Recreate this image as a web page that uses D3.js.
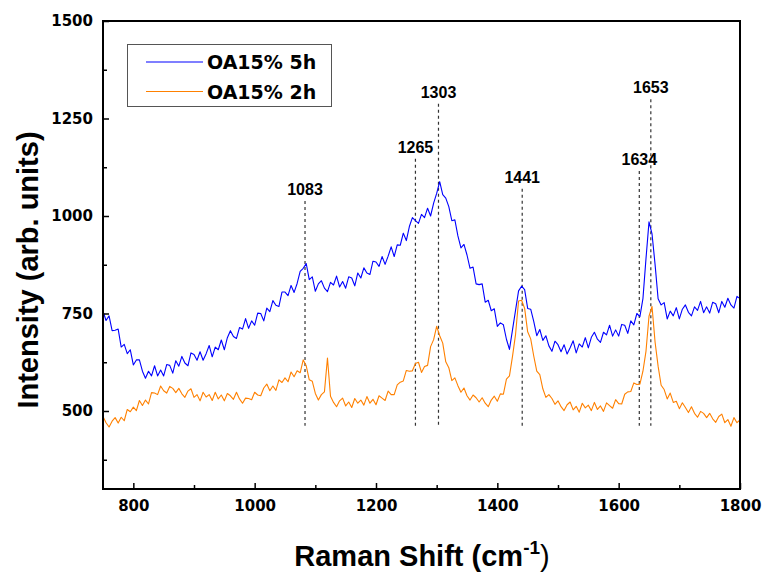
<!DOCTYPE html>
<html>
<head>
<meta charset="utf-8">
<script src="https://cdn.jsdelivr.net/npm/d3@7"></script>
<style>
    body { margin: 0; background: #fff; }
    svg { display: block; }
</style>
</head>
<body>
<div id="chart"></div>
<script>
// sampling grid of the spectra (cm-1)
var shiftStart = 750;
var shiftStep = 5;

// OA15% 5h, every 5 cm-1 from 750 to 1800
var oa5h = [
    756, 732, 744, 706, 707, 710, 664, 671, 647, 657,
    618, 631, 631, 602, 584, 602, 590, 616, 590, 605,
    590, 619, 617, 597, 629, 615, 640, 623, 616, 649,
    645, 630, 652, 630, 647, 668, 639, 664, 657, 682,
    657, 688, 706, 691, 686, 714, 710, 737, 712, 731,
    720, 751, 750, 731, 764, 755, 783, 771, 768, 805,
    805, 796, 822, 804, 827, 858, 866, 878, 837, 844,
    807, 826, 834, 815, 806, 830, 823, 846, 818, 832,
    815, 844, 841, 821, 854, 841, 867, 854, 850, 884,
    882, 871, 896, 876, 897, 921, 896, 926, 925, 956,
    937, 973, 996, 988, 981, 1004, 996, 1020, 1000, 1033,
    1058, 1088, 1055, 1046, 1024, 988, 990, 949, 918, 927,
    900, 866, 869, 826, 824, 826, 779, 784, 757, 762,
    717, 726, 721, 684, 658, 708, 758, 808, 820, 811,
    763, 761, 730, 693, 709, 681, 693, 667, 653, 679,
    670, 652, 670, 646, 662, 680, 649, 672, 664, 688,
    662, 689, 702, 684, 676, 702, 695, 720, 692, 708,
    692, 722, 720, 699, 731, 721, 750, 742, 788, 890,
    985, 954, 876, 788, 772, 778, 736, 756, 744, 765,
    736, 761, 772, 753, 744, 767, 758, 781, 752, 767,
    751, 779, 775, 752, 781, 766, 789, 772, 764, 794,
    788
];

// OA15% 2h, same grid
var oa2h = [
    486, 470, 459, 474, 483, 469, 484, 475, 504, 498,
    510, 501, 527, 514, 528, 518, 547, 546, 542, 564,
    552, 546, 563, 558, 547, 558, 544, 535, 551, 557,
    535, 542, 526, 548, 536, 542, 527, 548, 531, 541,
    526, 545, 539, 530, 548, 531, 520, 533, 532, 529,
    548, 541, 539, 559, 569, 552, 564, 553, 580, 573,
    585, 575, 600, 588, 603, 598, 631, 616, 580, 576,
    545, 528, 542, 549, 636, 538, 522, 511, 526, 533,
    513, 523, 509, 532, 520, 528, 515, 537, 520, 530,
    516, 539, 533, 527, 551, 542, 542, 567, 574, 577,
    604, 602, 603, 622, 625, 599, 614, 617, 665, 683,
    717, 693, 674, 626, 611, 578, 585, 565, 548, 559,
    539, 528, 541, 534, 523, 534, 520, 511, 528, 538,
    525, 544, 543, 582, 590, 640, 696, 782, 784, 763,
    703, 685, 641, 602, 593, 557, 535, 542, 532, 517,
    526, 511, 501, 516, 523, 503, 512, 497, 520, 508,
    515, 501, 522, 504, 513, 499, 521, 514, 507, 529,
    519, 518, 543, 549, 550, 572, 568, 569, 602, 653,
    743, 768, 677, 615, 566, 555, 531, 546, 522, 525,
    506, 521, 509, 496, 511, 494, 484, 499, 494, 483,
    494, 480, 471, 486, 492, 470, 478, 461, 483, 470,
    477
];

var seriesNames = ["OA15% 5h", "OA15% 2h"];
var seriesColors = ["#0000ff", "#ff8000"];

var peakShifts = [1083, 1265, 1303, 1441, 1634, 1653];
// height of each peak label, in intensity units
var peakLabelLevel = [1054, 1162, 1303, 1085, 1131, 1315];

var xMajorTicks = [800, 1000, 1200, 1400, 1600, 1800];
var xMinorTicks = [900, 1100, 1300, 1500, 1700];
var yMajorTicks = [500, 750, 1000, 1250, 1500];
var yMinorTicks = [375, 625, 875, 1125, 1375];

{
    var width = 763;
    var height = 572;

    var margin = {
        top: 21,
        right: 23,
        bottom: 83,
        left: 103
    };

    var shifts = oa5h.map((d, i) => shiftStart + i * shiftStep);

    var x = d3.scaleLinear()
        .domain([750, 1800])
        .range([margin.left, width - margin.right]);

    var y = d3.scaleLinear()
        .domain([300, 1500])
        .range([height - margin.bottom, margin.top]);

    var svg = d3.select("#chart").append("svg")
        .attr("width", width)
        .attr("height", height);

    svg.append("clipPath")
        .attr("id", "plot-clip")
        .append("rect")
        .attr("x", margin.left)
        .attr("y", margin.top)
        .attr("width", width - margin.left - margin.right)
        .attr("height", height - margin.top - margin.bottom);

    // dashed peak markers
    var bottomLine = y(462);
    var peaks = svg.append("g");
    peaks.selectAll("line")
        .data(peakShifts)
        .enter()
        .append("line")
        .attr("x1", d => x(d))
        .attr("x2", d => x(d))
        .attr("y1", (d, i) => y(peakLabelLevel[i]) + 6)
        .attr("y2", bottomLine)
        .attr("stroke", "#333")
        .attr("stroke-width", 1.2)
        .attr("stroke-dasharray", "3,3");

    peaks.selectAll("text")
        .data(peakShifts)
        .enter()
        .append("text")
        .attr("x", d => x(d))
        .attr("y", (d, i) => y(peakLabelLevel[i]))
        .attr("text-anchor", "middle")
        .style("font-family", "'Liberation Sans', Arial, sans-serif")
        .style("font-weight", "bold")
        .style("font-size", "16px")
        .text(d => d);

    // spectra
    var line = d3.line()
        .x((d, i) => x(shifts[i]))
        .y(d => y(d));

    svg.append("g")
        .attr("clip-path", "url(#plot-clip)")
        .selectAll("path")
        .data([oa2h, oa5h])
        .enter()
        .append("path")
        .attr("fill", "none")
        .attr("stroke", (d, i) => seriesColors[1 - i])
        .attr("stroke-width", 1.1)
        .attr("stroke-linejoin", "round")
        .attr("d", line);

    // axes, ticks pointing into the plot
    var tickFont = g => g.selectAll("text")
        .style("font-family", "'DejaVu Sans', sans-serif")
        .style("font-weight", "bold")
        .style("font-size", "15px")
        .attr("fill", "#000");

    svg.append("g")
        .attr("transform", `translate(0,${height - margin.bottom})`)
        .call(d3.axisBottom(x).tickValues(xMajorTicks).tickFormat(d3.format("d"))
            .tickSizeInner(-6).tickSizeOuter(0).tickPadding(11))
        .call(g => g.select(".domain").remove())
        .call(g => g.selectAll("line").attr("stroke-width", 1.5))
        .call(tickFont);

    svg.append("g")
        .attr("transform", `translate(0,${height - margin.bottom})`)
        .call(d3.axisBottom(x).tickValues(xMinorTicks).tickFormat("").tickSizeInner(-4).tickSizeOuter(0))
        .call(g => g.select(".domain").remove())
        .call(g => g.selectAll("line").attr("stroke-width", 1.5));

    svg.append("g")
        .attr("transform", `translate(${margin.left},0)`)
        .call(d3.axisLeft(y).tickValues(yMajorTicks).tickFormat(d3.format("d"))
            .tickSizeInner(-6).tickSizeOuter(0).tickPadding(10))
        .call(g => g.select(".domain").remove())
        .call(g => g.selectAll("line").attr("stroke-width", 1.5))
        .call(tickFont);

    svg.append("g")
        .attr("transform", `translate(${margin.left},0)`)
        .call(d3.axisLeft(y).tickValues(yMinorTicks).tickFormat("").tickSizeInner(-4).tickSizeOuter(0))
        .call(g => g.select(".domain").remove())
        .call(g => g.selectAll("line").attr("stroke-width", 1.5));

    // frame
    svg.append("rect")
        .attr("x", margin.left)
        .attr("y", margin.top)
        .attr("width", width - margin.left - margin.right)
        .attr("height", height - margin.top - margin.bottom)
        .attr("fill", "none")
        .attr("stroke", "#000")
        .attr("stroke-width", 2);

    // axis titles
    var xTitle = svg.append("text")
        .attr("x", 422)
        .attr("y", 566)
        .attr("text-anchor", "middle")
        .style("font-family", "'Liberation Sans', Arial, sans-serif")
        .style("font-weight", "bold")
        .style("font-size", "29px");
    xTitle.append("tspan").text("Raman Shift (cm");
    xTitle.append("tspan")
        .attr("dy", -12)
        .style("font-size", "19px")
        .text("-1");
    xTitle.append("tspan")
        .attr("dy", 12)
        .style("font-weight", "normal")
        .text(")");

    svg.append("text")
        .attr("transform", "translate(38,270) rotate(-90)")
        .attr("text-anchor", "middle")
        .style("font-family", "'Liberation Sans', Arial, sans-serif")
        .style("font-weight", "bold")
        .style("font-size", "29px")
        .text("Intensity (arb. units)");

    // legend
    var legend = svg.append("g");
    legend.append("rect")
        .attr("x", 127.5)
        .attr("y", 44.5)
        .attr("width", 204)
        .attr("height", 62)
        .attr("fill", "#fff")
        .attr("stroke", "#555")
        .attr("stroke-width", 1);

    var item = legend.selectAll("g")
        .data(seriesNames)
        .enter()
        .append("g")
        .attr("transform", (d, i) => `translate(0,${62 + i * 29.5})`);

    item.append("line")
        .attr("x1", 146)
        .attr("x2", 203)
        .attr("stroke", (d, i) => seriesColors[i])
        .attr("stroke-width", 1.2);

    item.append("text")
        .attr("x", 207)
        .attr("y", 7)
        .style("font-family", "'DejaVu Sans', sans-serif")
        .style("font-weight", "bold")
        .style("font-size", "19px")
        .text(d => d);
}
</script>
</body>
</html>
